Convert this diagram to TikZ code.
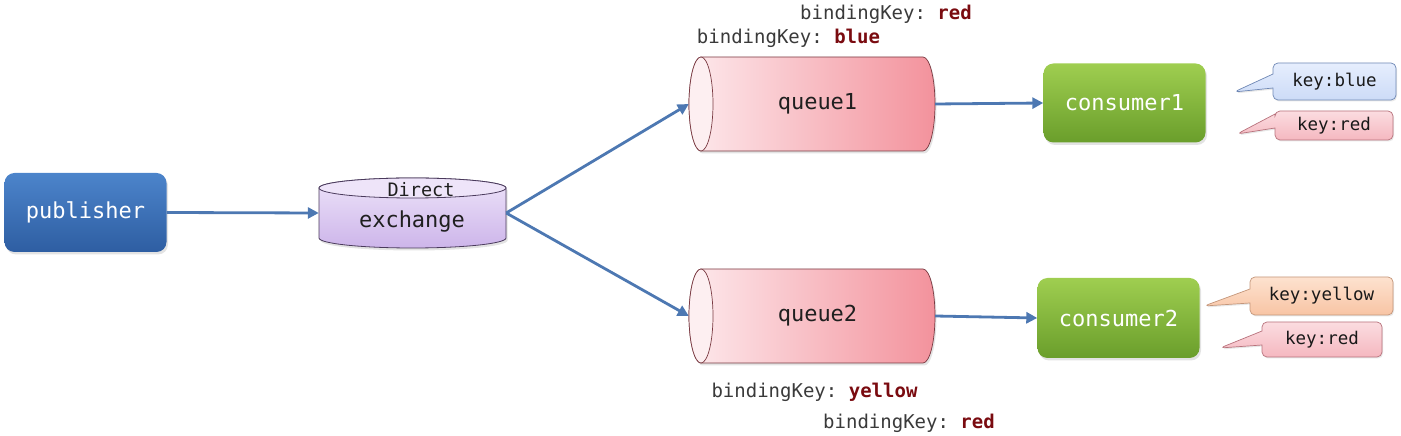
\documentclass[tikz,border=0pt]{standalone}
\usepackage{fontspec}
\setmonofont{DejaVu Sans Mono}
\usetikzlibrary{arrows.meta,shapes.callouts,shadows}
\definecolor{pubTop}{HTML}{4C84CB}
\definecolor{pubBot}{HTML}{2E5EA2}
\definecolor{grTop}{HTML}{9FCE50}
\definecolor{grBot}{HTML}{6A9E2B}
\definecolor{exTop}{HTML}{EDE3F9}
\definecolor{exBot}{HTML}{CDB5EA}
\definecolor{exCap}{HTML}{EEE4F9}
\definecolor{exLine}{HTML}{4A3A5C}
\definecolor{qL}{HTML}{FDE9EC}
\definecolor{qR}{HTML}{F3929C}
\definecolor{qCap}{HTML}{FDEFF1}
\definecolor{qLine}{HTML}{7A3A42}
\definecolor{arrowC}{HTML}{4D78B2}
\definecolor{valC}{HTML}{7A0B10}
\definecolor{lblC}{HTML}{3A3A3A}
\definecolor{cbTop}{HTML}{E6EEFD}
\definecolor{cbBot}{HTML}{CCDBF7}
\definecolor{cbLine}{HTML}{6F88B5}
\definecolor{crTop}{HTML}{FBDCE0}
\definecolor{crBot}{HTML}{F5B8C0}
\definecolor{crLine}{HTML}{B8727C}
\definecolor{cyTop}{HTML}{FDE2CF}
\definecolor{cyBot}{HTML}{F8C4A4}
\definecolor{cyLine}{HTML}{C4967A}
\begin{document}
\begin{tikzpicture}[x=1pt,y=1pt,
  softshadow/.style={drop shadow={opacity=0.22,shadow xshift=1.5pt,shadow yshift=-2.5pt}},
  box/.style={rounded corners=10pt, minimum width=162pt, minimum height=79pt, inner sep=0pt,
    text=white, font=\ttfamily\fontsize{22}{26}\selectfont, softshadow},
  pubbox/.style={box, top color=pubTop, bottom color=pubBot},
  conbox/.style={box, top color=grTop, bottom color=grBot},
  anchorbox/.style={draw=none, inner sep=0pt, font=\ttfamily\fontsize{22}{26}\selectfont, text=black!88},
  flow/.style={draw=arrowC, line width=2.8pt, -{Triangle[length=11pt,width=11pt]}},
  bind/.style={inner sep=0pt, text=lblC, font=\ttfamily\fontsize{19}{22}\selectfont},
  keycall/.style={rectangle callout, callout pointer width=14pt, rounded corners=5pt, inner sep=0pt, line width=0.7pt,
    text=black!90, font=\ttfamily\fontsize{17.5}{20}\selectfont,
    drop shadow={opacity=0.18,shadow xshift=1pt,shadow yshift=-1.5pt}},
  bluecall/.style={keycall, top color=cbTop, bottom color=cbBot, draw=cbLine},
  redcall/.style={keycall, top color=crTop, bottom color=crBot, draw=crLine},
  yellowcall/.style={keycall, top color=cyTop, bottom color=cyBot, draw=cyLine}
]
\useasboundingbox (0,0) rectangle (1401,436);

% exchange cylinder
\path[softshadow, top color=exTop, bottom color=exBot, draw=exLine, line width=0.8pt]
  (319,248) -- (319,198) arc[start angle=180, end angle=360, x radius=93.5pt, y radius=10pt]
  -- (506,248) arc[start angle=0, end angle=180, x radius=93.5pt, y radius=10pt] -- cycle;
\draw[fill=exCap, draw=exLine, line width=0.8pt] (412.5,248) ellipse[x radius=93.5pt, y radius=10pt];

% queue cylinders
\path[softshadow, left color=qL, right color=qR, draw=qLine, line width=0.7pt]
  (701,379) -- (923,379) arc[start angle=90, end angle=-90, x radius=12pt, y radius=47pt]
  -- (701,285) arc[start angle=270, end angle=90, x radius=12pt, y radius=47pt] -- cycle;
\draw[fill=qCap, draw=qLine, line width=0.7pt] (701,332) ellipse[x radius=12pt, y radius=47pt];
\path[softshadow, left color=qL, right color=qR, draw=qLine, line width=0.7pt]
  (701,167) -- (923,167) arc[start angle=90, end angle=-90, x radius=12pt, y radius=47pt]
  -- (701,73) arc[start angle=270, end angle=90, x radius=12pt, y radius=47pt] -- cycle;
\draw[fill=qCap, draw=qLine, line width=0.7pt] (701,120) ellipse[x radius=12pt, y radius=47pt];

% nodes
\node[pubbox] (pub) at (85.5,223.5) {publisher};
\node[anchorbox, minimum width=187pt, minimum height=70pt] (ex) at (412.5,223) {};
\node[anchorbox] (exlbl) at (412,214) {exchange};
\node[anchorbox, font=\ttfamily\fontsize{18.5}{22}\selectfont] (exdir) at (421,246) {Direct};
\node[anchorbox, minimum width=246pt, minimum height=94pt] (q1) at (812,332) {\hspace{11pt}queue1};
\node[anchorbox, minimum width=246pt, minimum height=94pt] (q2) at (812,120) {\hspace{11pt}queue2};
\node[conbox] (c1) at (1124.5,333) {consumer1};
\node[conbox, minimum height=80pt] (c2) at (1118.5,118) {consumer2};

% binding keys
\node[bind] (bk1) at (886,422) {bindingKey: \textcolor{valC}{\bfseries red}};
\node[bind] (bk2) at (788.5,398) {bindingKey: \textcolor{valC}{\bfseries blue}};
\node[bind] (bk3) at (814.5,44) {bindingKey: \textcolor{valC}{\bfseries yellow}};
\node[bind] (bk4) at (909,13) {bindingKey: \textcolor{valC}{\bfseries red}};

% pointer tips
\coordinate (t1) at (1234,344);
\coordinate (t2) at (1237,302);
\coordinate (t3) at (1204,130);
\coordinate (t4) at (1220,88);

% callouts
\node[bluecall, minimum width=123pt, minimum height=37pt, callout absolute pointer={(t1)}] (k1) at (1334.5,354.5) {key:blue};
\node[redcall, minimum width=118pt, minimum height=29pt, callout absolute pointer={(t2)}] (k2) at (1334,310.5) {key:red};
\node[yellowcall, minimum width=143pt, minimum height=38pt, callout absolute pointer={(t3)}] (k3) at (1321.5,140) {key:yellow};
\node[redcall, minimum width=120pt, minimum height=35pt, callout absolute pointer={(t4)}] (k4) at (1322,96.5) {key:red};

% connectors
\draw[flow] (pub.east) -- (ex.west);
\draw[flow] (ex.east) -- (q1.west);
\draw[flow] (ex.east) -- (q2.west);
\draw[flow] (q1.east) -- (c1.west);
\draw[flow] (q2.east) -- (c2.west);
\end{tikzpicture}
\end{document}
